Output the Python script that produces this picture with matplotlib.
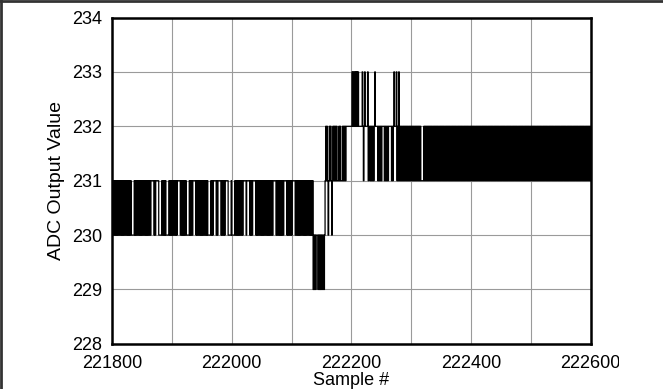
import matplotlib.pyplot as plt
from matplotlib.lines import Line2D
import numpy as np

# ADC codes, one character per sample starting at 221800
# value = 229 + digit  (0 -> 229, 1 -> 230, 2 -> 231, 3 -> 232, 4 -> 233)
start_sample = 221800
base_code = 229
code_lines = [
    "12121212121212121212121212121212" "1111" "1212",
    "1212121212121212121212121" "2222" "2121" "2222" "2" "11",
    "11" "12121212" "1111" "121212121212121" "2222" "2121212",
    "1212" "1111" "1212121" "2222" "212121212121212121212",
    "1111" "12121" "2222" "2121" "2222" "21212121" "2222" "2" "1111" "12",
    "1111" "121212121212121" "2222" "21" "2222" "212121" "2222" "2",
    "12121212121212121212121212121" "2222" "2121212",
    "1212121" "2222" "2121212121" "2222" "212121212121212",
    "1212121212121212" "01010" "111" "010101010101" "2323",
    "21232321" "23232323" "222" "323" "222" "3232323" "33333333",
    "3" "43434343434" "333333" "4323" "4" "3333" "4233" "2323232" "34",
    "3333" "23232323" "333" "2323232" "33333" "2323" "4" "333" "4" "2324",
    "2323232323" "2323232323" "2323232323" "23232322",
    "22" "2323232323" "2323232323" "2323232323" "23232323",
    "2323232323" "2323232323" "2323232323" "2323232323",
    "2323232323" "2323232323" "2323232323" "2323232323",
    "2323232323" "2323232323" "2323232323" "2323232323",
    "2323232323" "2323232323" "2323232323" "2323232323",
    "2323232323" "2323232323" "2323232323" "2323232323",
    "2323232323" "2323232323" "2323232323" "2323232323",
    "232",
]
x_ticks = [221800, 222000, 222200, 222400, 222600]
y_ticks = [228, 229, 230, 231, 232, 233, 234]

codes = "".join(code_lines)
values = np.array([base_code + int(c) for c in codes])
samples = start_sample + np.arange(len(values))

plt.rcParams['font.family'] = ['Liberation Sans', 'DejaVu Sans']

fig = plt.figure(figsize=(6.63, 3.89), dpi=100)
ax = fig.add_axes([0.169, 0.116, 0.722, 0.839])

ax.step(samples, values, where='post', color='black', linewidth=0.9)

ax.set_xlim(221800, 222600)
ax.set_ylim(228, 234)
ax.set_xticks(x_ticks)
ax.set_xticks(np.arange(221800, 222601, 100), minor=True)
ax.set_yticks(y_ticks)
ax.grid(True, which='both', color='#9a9a9a', linewidth=0.8)
ax.tick_params(which='both', length=0)
ax.tick_params(axis='y', pad=7, labelsize=13)
ax.tick_params(axis='x', pad=8, labelsize=13)
ax.set_axisbelow(True)
for s in ax.spines.values():
    s.set_linewidth(1.8)
    s.set_color('black')

ax.set_xlabel('Sample #', fontsize=13, labelpad=0)
ax.set_ylabel('ADC Output Value', fontsize=14, labelpad=5)

# the last x label is cut by the picture's right part in the original
fig.canvas.draw()
ax.get_xticklabels()[-1].set_clip_box(
    plt.matplotlib.transforms.Bbox([[0, 0], [619, 389]]))
ax.get_xticklabels()[-1].set_clip_on(True)

# dark border on the top and left of the picture
fig.add_artist(Line2D([0.002, 0.002], [0, 1], color='#333333', lw=2,
                      transform=fig.transFigure))
fig.add_artist(Line2D([0, 1], [0.998, 0.998], color='#333333', lw=2,
                      transform=fig.transFigure))

fig.savefig('out.png', dpi=100)
